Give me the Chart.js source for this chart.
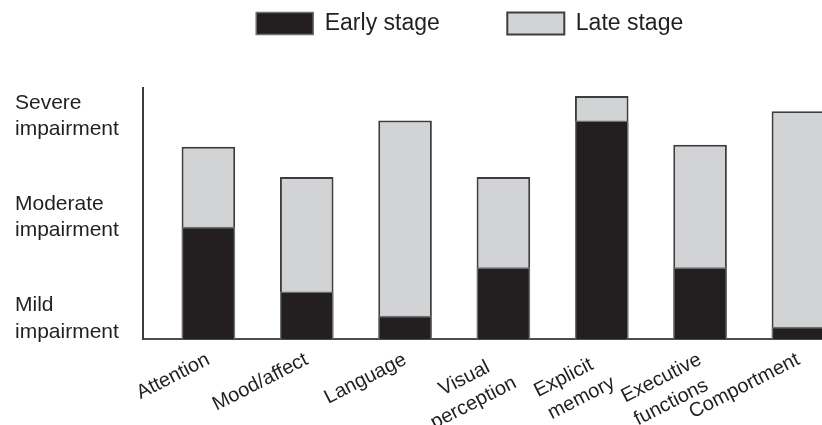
<!DOCTYPE html>
<html>
<head>
<meta charset="utf-8">
<script src="https://cdn.jsdelivr.net/npm/chart.js@4.4.1/dist/chart.umd.min.js"></script>
<style>
    html, body { margin: 0; padding: 0; background: #fff; overflow: hidden; }
    #wrap { width: 822px; height: 425px; }
</style>
</head>
<body>
<div id="wrap"><canvas id="myChart"></canvas></div>
<script>
// impairment level: 1 = mild, 2 = moderate, 3 = severe
const categories = ['Attention', 'Mood/affect', 'Language', 'Visual perception', 'Explicit memory', 'Executive functions', 'Comportment']
// tick text, trailing spaces push the short line to the left like the print
const categoryTicks = [['Attention'], ['Mood/affect'], ['Language'], ['Visual   ', 'perception'], ['Explicit  ', 'memory'], ['Executive', 'functions '], ['Comportment']]
const yTicks = [['Mild', 'impairment'], ['Moderate', 'impairment'], ['Severe', 'impairment']]

const earlyStage = [1.91, 1.27, 1.03, 1.51, 2.96, 1.51, 0.92]
const lateStage = [2.70, 2.40, 2.96, 2.40, 3.20, 2.72, 3.05]

Chart.defaults.font.family = "'Liberation Sans', Arial, sans-serif"
Chart.defaults.color = '#231f20'

const toPoints = (values) => values.map((v, i) => ({ x: i + 1, y: v }))

// extra room under the legend
const legendSpacing = {
    id: 'legendSpacing',
    beforeInit(chart) {
        const fit = chart.legend.fit
        chart.legend.fit = function () {
            fit.call(this)
            this.height += 43
        }
    }
}

const dataConfig = {
    datasets: [{
        label: 'Early stage' + ' '.repeat(9),
        data: toPoints(earlyStage),
        backgroundColor: '#231f20',
        borderColor: '#6d6e71',
        borderWidth: 1.5,
        grouped: false,
        barPercentage: 0.545,
        categoryPercentage: 1,
        clip: 0
    }, {
        label: 'Late stage' + ' '.repeat(4),
        data: toPoints(lateStage),
        backgroundColor: '#d1d3d4',
        borderColor: '#3d3d3d',
        borderWidth: 2,
        grouped: false,
        barPercentage: 0.545,
        categoryPercentage: 1,
        clip: 0
    }]
}

const config = {
    type: 'bar',
    data: dataConfig,
    options: {
        responsive: true,
        maintainAspectRatio: false,
        animation: false,
        layout: { padding: { top: 2, left: 15, right: 0, bottom: 0 } },
        plugins: {
            tooltip: { enabled: false },
            legend: {
                position: 'top',
                fullSize: false,
                labels: {
                    boxWidth: 57,
                    boxHeight: 22,
                    padding: 10,
                    font: { size: 23 }
                }
            }
        },
        scales: {
            x: {
                type: 'linear',
                min: 0.335,
                max: 7.24,
                bounds: 'data',
                offset: false,
                grid: { display: false, drawTicks: false, offset: false },
                border: { color: '#4d4d4d', width: 2 },
                afterBuildTicks: (axis) => {
                    axis.ticks = categories.map((c, i) => ({ value: i + 1 }))
                },
                afterFit: (axis) => {
                    axis.height = 86
                },
                ticks: {
                    autoSkip: false,
                    minRotation: 27,
                    maxRotation: 27,
                    padding: 8,
                    font: { size: 20, lineHeight: 1.3 },
                    callback: (v) => categoryTicks[v - 1]
                }
            },
            y: {
                type: 'linear',
                min: 0.8,
                max: 3.28,
                bounds: 'data',
                grid: { display: false, drawTicks: false },
                border: { color: '#3d3d3d', width: 2 },
                afterBuildTicks: (axis) => {
                    axis.ticks = yTicks.map((t, i) => ({ value: i + 1 }))
                },
                afterFit: (axis) => {
                    axis.width = 128
                },
                ticks: {
                    crossAlign: 'far',
                    padding: 10,
                    font: { size: 21, lineHeight: 1.25 },
                    callback: (v) => yTicks[v - 1]
                }
            }
        }
    },
    plugins: [legendSpacing]
}

const myChart = new Chart(document.getElementById('myChart'), config)
</script>
</body>
</html>
